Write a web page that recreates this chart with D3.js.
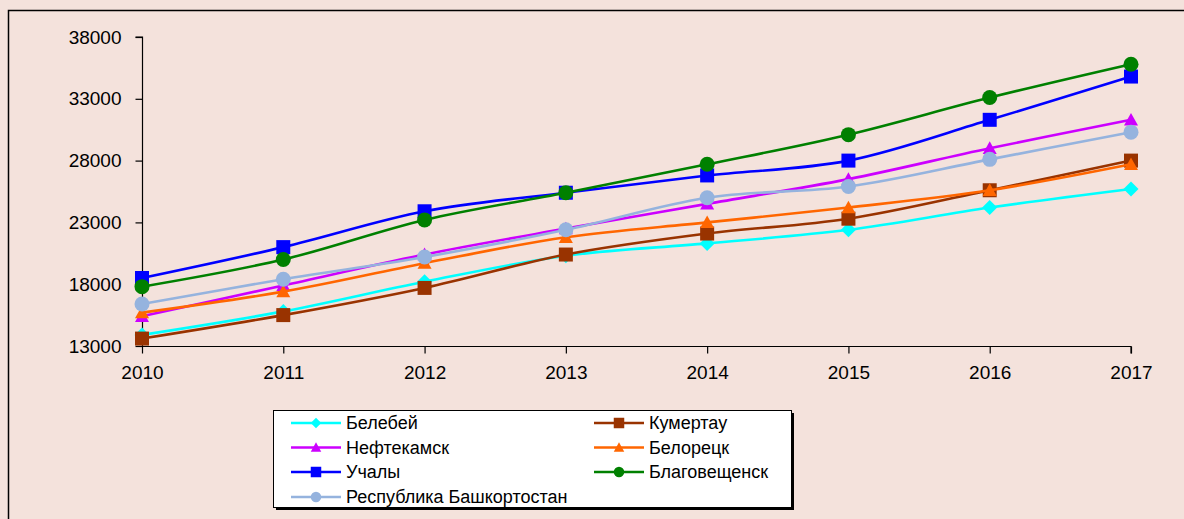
<!DOCTYPE html>
<html><head><meta charset="utf-8">
<script src="https://cdn.jsdelivr.net/npm/d3@7"></script>
<style>
html,body{margin:0;padding:0;background:#F4E2DC;}
svg{display:block;}
text{font-family:"Liberation Sans",Arial,sans-serif;fill:#000;}
</style></head>
<body>
<svg id="chart" width="1184" height="519"></svg>
<script>
const years = [2010, 2011, 2012, 2013, 2014, 2015, 2016, 2017];
const yTicks = [13000, 18000, 23000, 28000, 33000, 38000];
const seriesNames = ["Белебей", "Кумертау", "Нефтекамск", "Белорецк", "Учалы", "Благовещенск", "Республика Башкортостан"];
const belebey   = [13900, 15800, 18200, 20300, 21300, 22400, 24200, 25700];
const kumertau  = [13600, 15500, 17700, 20400, 22100, 23300, 25600, 28000];
const neftekamsk= [15400, 17900, 20400, 22500, 24500, 26500, 29000, 31300];
const beloretsk = [15700, 17400, 19700, 21800, 23000, 24200, 25600, 27700];
const uchaly    = [18500, 21000, 23900, 25400, 26800, 28000, 31300, 34800];
const blagov    = [17800, 20000, 23200, 25400, 27700, 30100, 33100, 35800];
const republic  = [16400, 18400, 20200, 22400, 25000, 25900, 28100, 30300];
const seriesValues = [belebey, kumertau, neftekamsk, beloretsk, uchaly, blagov, republic];
const colors = ["#00FFFF", "#993300", "#CC00FF", "#FF6600", "#0000FF", "#008000", "#95B3DE"];
const shapes = ["diamond", "square", "triangle", "triangle", "square", "circle", "circle"];

const svg = d3.select("#chart");
// outer chart border
svg.append("rect").attr("x", 8.5).attr("y", 10.5).attr("width", 1200).attr("height", 600)
  .attr("fill", "#F4E2DC").attr("stroke", "#000").attr("stroke-width", 1.5);

const x = d3.scaleLinear().domain([2010, 2017]).range([142, 1131]);
const y = d3.scaleLinear().domain([13000, 38000]).range([346, 37]);

const yAxis = d3.axisLeft(y).tickValues(yTicks).tickSize(7).tickPadding(14).tickFormat(d3.format("d"));
const gy = svg.append("g").attr("transform", "translate(142.5,0)").call(yAxis);
const xAxis = d3.axisBottom(x).tickValues(years).tickSize(7).tickPadding(12).tickFormat(d3.format("d"));
const gx = svg.append("g").attr("transform", "translate(0,346.5)").call(xAxis);
[gy, gx].forEach(g => {
  g.select(".domain").attr("stroke", "#000").attr("stroke-width", 1.2);
  g.selectAll(".tick line").attr("stroke", "#000").attr("stroke-width", 1.2);
  g.selectAll("text").style("font-size", "19px").attr("fill", "#000")
    .style("font-family", '"Liberation Sans",Arial,sans-serif');
});
gy.select(".domain").attr("d", "M-7," + y(38000) + "H0V" + y(13000));
gx.select(".domain").attr("d", "M" + x(2010) + ",0H" + x(2017) + "V7");

function markerPath(shape, s) {
  if (shape === "square") return d3.symbol(d3.symbolSquare, s * s)();
  if (shape === "circle") return d3.symbol(d3.symbolCircle, Math.PI * (s / 2) * (s / 2))();
  if (shape === "triangle") {
    const h = s * 0.9;
    return `M0,${-h * 0.55}L${s / 2},${h * 0.45}L${-s / 2},${h * 0.45}Z`;
  }
  if (shape === "diamond") {
    const r = s / 2;
    return `M0,${-r}L${r},0L0,${r}L${-r},0Z`;
  }
}

const line = d3.line().x((d, i) => x(years[i])).y(d => y(d)).curve(d3.curveCardinal.tension(0));
const plot = svg.append("g");
seriesValues.forEach((vals, k) => {
  const g = plot.append("g");
  g.append("path").attr("d", line(vals)).attr("fill", "none")
    .attr("stroke", colors[k]).attr("stroke-width", 2.6);
  const sz = shapes[k] === "diamond" ? 15 : (shapes[k] === "circle" ? 15 : 14);
  g.selectAll("path.m").data(vals).enter().append("path").attr("class", "m")
    .attr("d", markerPath(shapes[k], sz))
    .attr("transform", (d, i) => `translate(${x(years[i])},${y(d)})`)
    .attr("fill", colors[k]);
});

// legend
const lg = svg.append("g");
lg.append("rect").attr("x", 276).attr("y", 413).attr("width", 518).attr("height", 97).attr("fill", "#000");
lg.append("rect").attr("x", 273.5).attr("y", 410.5).attr("width", 518).attr("height", 97)
  .attr("fill", "#fff").attr("stroke", "#000").attr("stroke-width", 1);
const colX = [291, 594];
const rowY = [423, 447.5, 472, 497];
seriesNames.forEach((name, k) => {
  const cx = colX[k % 2], cy = rowY[Math.floor(k / 2)];
  lg.append("line").attr("x1", cx).attr("x2", cx + 50).attr("y1", cy).attr("y2", cy)
    .attr("stroke", colors[k]).attr("stroke-width", 2.6);
  lg.append("path").attr("d", markerPath(shapes[k], 10.5))
    .attr("transform", `translate(${cx + 25},${cy})`).attr("fill", colors[k]);
  lg.append("text").attr("x", cx + 55).attr("y", cy).attr("dy", "0.35em")
    .style("font-size", "18px").text(name);
});
</script>
</body></html>
